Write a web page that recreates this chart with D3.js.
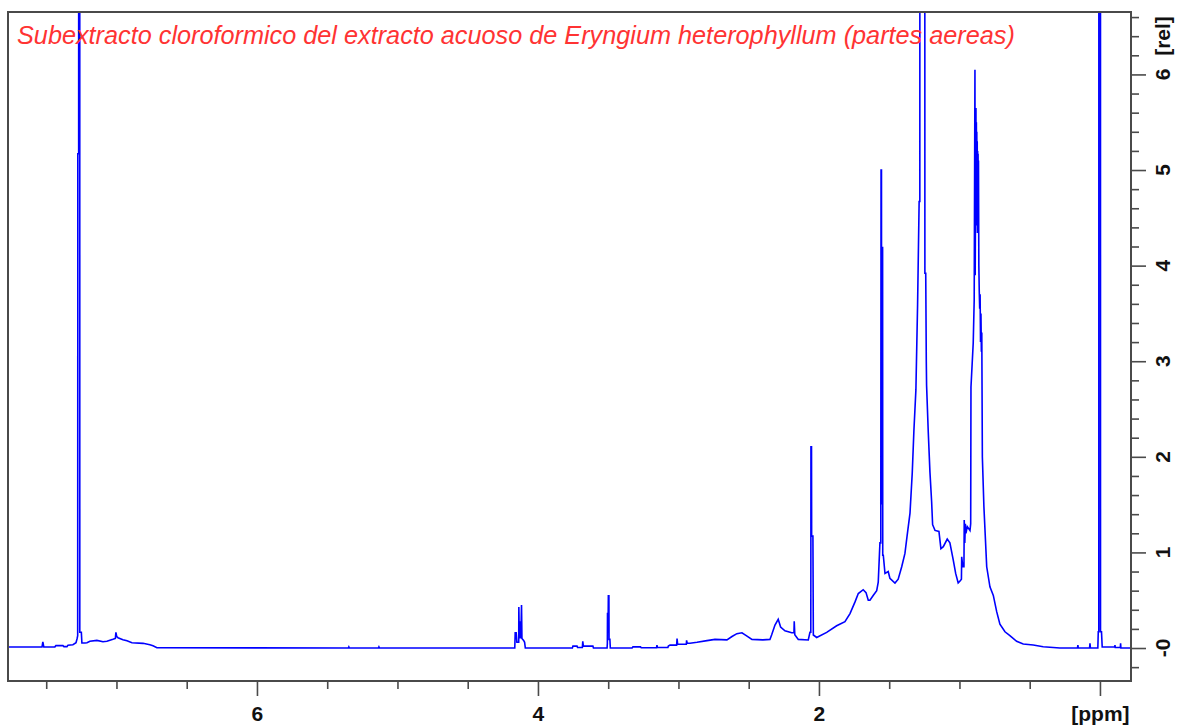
<!DOCTYPE html>
<html>
<head>
<meta charset="utf-8">
<script src="https://cdn.jsdelivr.net/npm/d3@7"></script>
<style>
  html, body { margin: 0; padding: 0; background: #ffffff; }
  svg { display: block; }
</style>
</head>
<body>
<svg id="chart" width="1177" height="727"></svg>
<script>
// 1H NMR spectrum, chloroform sub-extract
const titleText = "Subextracto cloroformico del extracto acuoso de Eryngium heterophyllum (partes aereas)";

// axis extents (ppm runs right to left)
const ppmRange = [7.772, -0.221];
const relRange = [-0.345, 6.653];

// tick values and labels
const xMajorTicks = [6, 4, 2, 0];
const xTickLabels = ["6", "4", "2", "[ppm]"];
const yMajorTicks = [0, 1, 2, 3, 4, 5, 6];
const yTickLabels = ["-0", "1", "2", "3", "4", "5", "6"];
const yUnitLabel = "[rel]";

// spectrum vertices: [chemical shift (ppm), relative intensity]
const spectrum = [
  [7.772, 0.010], [7.530, 0.010], [7.524, 0.065], [7.517, 0.010],
  [7.438, 0.012], [7.431, 0.025], [7.381, 0.025], [7.374, 0.015],
  [7.352, 0.015], [7.345, 0.030], [7.310, 0.035], [7.288, 0.055],
  [7.280, 0.100], [7.276, 0.130], [7.275, 5.170], [7.269, 5.170],
  [7.268, 30.0], [7.262, 30.0], [7.261, 0.165], [7.250, 0.165],
  [7.246, 0.052], [7.224, 0.052], [7.210, 0.055], [7.189, 0.070],
  [7.139, 0.080], [7.096, 0.066], [7.068, 0.070], [7.025, 0.091],
  [7.008, 0.100], [7.004, 0.164], [6.998, 0.120], [6.989, 0.108],
  [6.954, 0.087], [6.925, 0.075], [6.890, 0.055], [6.811, 0.049],
  [6.762, 0.035], [6.740, 0.024], [6.712, 0.003],
  [5.350, 0.000], [5.346, 0.012], [5.342, 0.000],
  [5.136, 0.000], [5.132, 0.012], [5.128, 0.000],
  // ethyl acetate quartet
  [4.165, 0.000], [4.162, 0.160], [4.155, 0.160], [4.150, 0.060],
  [4.137, 0.060], [4.136, 0.430], [4.133, 0.100], [4.125, 0.280],
  [4.122, 0.100], [4.117, 0.450], [4.114, 0.100], [4.102, 0.080],
  [4.095, 0.060], [4.090, 0.000],
  [3.755, 0.000], [3.751, 0.020], [3.722, 0.020], [3.718, 0.005],
  [3.684, 0.005], [3.681, 0.070], [3.677, 0.020], [3.609, 0.020],
  [3.605, 0.000],
  // methanol
  [3.508, 0.000], [3.506, 0.050], [3.505, 0.360], [3.500, 0.360],
  [3.499, 0.545], [3.495, 0.545], [3.494, 0.090], [3.488, 0.090],
  [3.485, 0.000],
  [3.330, 0.000], [3.324, 0.012], [3.270, 0.012], [3.265, 0.003],
  [3.156, 0.003], [3.153, 0.030], [3.150, 0.005], [3.075, 0.005],
  [3.072, 0.020], [3.060, 0.030], [3.013, 0.030], [3.010, 0.100],
  [3.006, 0.040], [2.989, 0.040], [2.944, 0.040], [2.942, 0.080],
  [2.938, 0.050], [2.918, 0.050], [2.868, 0.060], [2.797, 0.077],
  [2.740, 0.090], [2.655, 0.085], [2.619, 0.120], [2.584, 0.150],
  [2.548, 0.160], [2.512, 0.125], [2.477, 0.090], [2.399, 0.085],
  [2.349, 0.090], [2.337, 0.136], [2.313, 0.240], [2.290, 0.300],
  [2.273, 0.220], [2.242, 0.180], [2.194, 0.160], [2.178, 0.160],
  [2.176, 0.280], [2.172, 0.140], [2.147, 0.090], [2.076, 0.084],
  [2.064, 0.165], [2.058, 0.165], [2.057, 2.106], [2.053, 2.106],
  [2.052, 1.170], [2.043, 1.170], [2.040, 0.136], [2.016, 0.110],
  [1.945, 0.164], [1.874, 0.233], [1.815, 0.275], [1.779, 0.360],
  [1.744, 0.480], [1.720, 0.570], [1.685, 0.610], [1.665, 0.580],
  [1.649, 0.500], [1.637, 0.500], [1.614, 0.550], [1.589, 0.600],
  [1.578, 0.690], [1.566, 1.100], [1.560, 1.100],
  // water
  [1.558, 5.000], [1.555, 5.000], [1.554, 1.500], [1.552, 4.190],
  [1.547, 4.190], [1.546, 0.970], [1.542, 0.970], [1.530, 0.780],
  [1.507, 0.800], [1.495, 0.730], [1.459, 0.680], [1.436, 0.720],
  [1.411, 0.850], [1.388, 0.990], [1.372, 1.180], [1.352, 1.410],
  [1.336, 1.830], [1.324, 2.280], [1.310, 2.700], [1.298, 3.590],
  [1.287, 4.670], [1.282, 4.670],
  // methylene envelope
  [1.280, 30.0], [1.250, 30.0], [1.246, 3.920], [1.240, 3.920],
  [1.236, 3.000], [1.234, 2.750], [1.222, 2.260], [1.210, 1.840],
  [1.198, 1.530], [1.191, 1.290], [1.174, 1.230], [1.146, 1.220],
  [1.132, 1.040], [1.115, 1.060], [1.087, 1.140], [1.068, 1.100],
  [1.044, 0.920], [1.027, 0.780], [1.009, 0.680], [0.996, 0.700],
  [0.986, 0.720], [0.984, 0.955], [0.976, 0.850], [0.968, 0.850],
  [0.966, 1.340], [0.962, 1.100], [0.958, 1.300], [0.954, 1.200],
  [0.944, 1.270], [0.925, 1.230], [0.920, 1.300], [0.918, 2.730],
  [0.902, 3.190], [0.895, 3.640],
  // methyl multiplet
  [0.8897, 6.050], [0.8880, 3.900], [0.8826, 5.650], [0.8810, 4.600],
  [0.8795, 5.500], [0.8780, 4.420], [0.8765, 5.400], [0.8750, 4.500],
  [0.8735, 5.300], [0.8720, 4.340], [0.8705, 5.200], [0.8690, 4.400],
  [0.8675, 5.170], [0.8660, 4.600], [0.8645, 5.100], [0.8620, 4.000],
  [0.8590, 3.730], [0.8560, 3.550], [0.8530, 3.700], [0.8500, 3.200],
  [0.8470, 3.500], [0.8440, 3.100], [0.8410, 3.300], [0.8370, 2.000],
  [0.826, 1.480], [0.806, 0.850], [0.783, 0.640], [0.759, 0.550],
  [0.735, 0.380], [0.712, 0.250], [0.676, 0.170], [0.641, 0.130],
  [0.593, 0.070], [0.546, 0.042], [0.475, 0.031], [0.404, 0.014],
  [0.285, 0.000], [0.160, 0.000], [0.157, 0.030], [0.154, 0.000],
  [0.074, 0.000], [0.071, 0.050], [0.068, 0.000],
  // TMS reference
  [0.015, 0.000], [0.012, 0.170], [0.008, 0.170], [0.007, 30.0],
  [-0.003, 30.0], [-0.004, 0.170], [-0.011, 0.170], [-0.016, 0.010],
  [-0.105, 0.010], [-0.107, 0.030], [-0.109, 0.005], [-0.145, 0.005],
  [-0.147, 0.050], [-0.149, 0.000], [-0.221, 0.000]
];

const svg = d3.select("#chart");
const plot = { left: 8, top: 12, right: 1131, bottom: 681 };
const frameColor = "#4a4a4a";
const axisFont = "'Liberation Sans', Arial, Helvetica, sans-serif";
const axisFontSize = 21;

const x = d3.scaleLinear().domain(ppmRange).range([plot.left, plot.right]);
const y = d3.scaleLinear().domain(relRange).range([plot.bottom, plot.top]);

svg.append("rect")
  .attr("width", 1177).attr("height", 727).attr("fill", "#ffffff");

svg.append("defs").append("clipPath").attr("id", "plot-clip")
  .append("rect")
  .attr("x", plot.left).attr("y", plot.top)
  .attr("width", plot.right - plot.left).attr("height", plot.bottom - plot.top);

// spectrum trace
const line = d3.line()
  .x(d => x(d[0]))
  .y(d => y(d[1]));

svg.append("path")
  .datum(spectrum)
  .attr("clip-path", "url(#plot-clip)")
  .attr("fill", "none")
  .attr("stroke", "#0000ff")
  .attr("stroke-width", 1.6)
  .attr("stroke-linejoin", "miter")
  .attr("d", line);

// title
const title = svg.append("text")
  .attr("x", 17).attr("y", 44)
  .attr("fill", "#ff3333")
  .attr("font-family", axisFont)
  .attr("font-style", "italic")
  .attr("font-size", 24)
  .text(titleText);
const measured = title.node().getComputedTextLength();
title.attr("font-size", 24 * 998 / measured);

// bottom axis: minor ticks every 0.5 ppm, long ticks with labels every 2 ppm
const xMinor = d3.range(0, 7.75, 0.5).filter(v => !xMajorTicks.includes(v));
const bottomMinor = svg.append("g")
  .attr("transform", `translate(0,${plot.bottom})`)
  .call(d3.axisBottom(x).tickValues(xMinor).tickSize(8).tickFormat(""));
const bottomMajor = svg.append("g")
  .attr("transform", `translate(0,${plot.bottom})`)
  .call(d3.axisBottom(x).tickValues(xMajorTicks).tickSize(15)
    .tickFormat((d, i) => xTickLabels[i]));

// right axis: minor ticks every 0.2, long ticks at integers
const yMinor = d3.range(-0.2, 6.61, 0.2).filter(v => Math.abs(v - Math.round(v)) > 1e-6);
const rightMinor = svg.append("g")
  .attr("transform", `translate(${plot.right},0)`)
  .call(d3.axisRight(y).tickValues(yMinor).tickSize(8).tickFormat(""));
const rightMajor = svg.append("g")
  .attr("transform", `translate(${plot.right},0)`)
  .call(d3.axisRight(y).tickValues(yMajorTicks).tickSize(15).tickFormat(""));

[bottomMinor, bottomMajor, rightMinor, rightMajor].forEach(g => {
  g.select(".domain").remove();
  g.selectAll(".tick line").attr("stroke", frameColor).attr("stroke-width", 1.6);
});

bottomMajor.selectAll(".tick text")
  .attr("fill", "#111")
  .attr("font-family", axisFont)
  .attr("font-weight", "bold")
  .attr("font-size", axisFontSize)
  .attr("dy", 0)
  .attr("y", 40);

// rotated labels for the intensity axis
const yLabels = svg.append("g")
  .attr("font-family", axisFont)
  .attr("font-weight", "bold")
  .attr("font-size", axisFontSize)
  .attr("fill", "#111")
  .attr("text-anchor", "middle");

yLabels.selectAll("text.ylab")
  .data(yMajorTicks)
  .join("text")
  .attr("class", "ylab")
  .attr("transform", d => `translate(1170,${y(d)}) rotate(-90)`)
  .text((d, i) => yTickLabels[i]);

yLabels.append("text")
  .attr("transform", `translate(1170,${plot.top + 24}) rotate(-90)`)
  .text(yUnitLabel);

// frame
svg.append("rect")
  .attr("x", plot.left).attr("y", plot.top)
  .attr("width", plot.right - plot.left).attr("height", plot.bottom - plot.top)
  .attr("fill", "none")
  .attr("stroke", frameColor)
  .attr("stroke-width", 2);
</script>
</body>
</html>
